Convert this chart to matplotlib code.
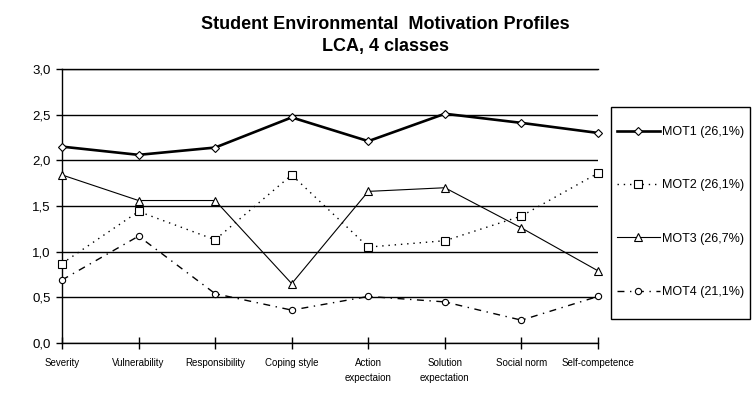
import matplotlib.pyplot as plt
from matplotlib.patches import Rectangle

plt.rcParams['font.family'] = ['Liberation Sans', 'DejaVu Sans']

categorias = ["Severity", "Vulnerability", "Responsibility", "Coping style",
              "Action\nexpectaion", "Solution\nexpectation", "Social norm", "Self-competence"]

mot1 = [2.15, 2.06, 2.14, 2.47, 2.21, 2.51, 2.41, 2.30]
mot2 = [0.87, 1.44, 1.13, 1.84, 1.05, 1.12, 1.39, 1.86]
mot3 = [1.84, 1.56, 1.56, 0.65, 1.66, 1.70, 1.26, 0.79]
mot4 = [0.69, 1.17, 0.54, 0.36, 0.51, 0.45, 0.25, 0.51]

etiquetas = ["MOT1 (26,1%)", "MOT2 (26,1%)", "MOT3 (26,7%)", "MOT4 (21,1%)"]
y_ticks = [0.0, 0.5, 1.0, 1.5, 2.0, 2.5, 3.0]

W, H = 755, 397
fig = plt.figure(figsize=(W / 100, H / 100), dpi=100)
ax = fig.add_axes([62 / W, 54 / H, 536 / W, 274 / H])

x = list(range(len(categorias)))

# cada perfil con su estilo de linea y marcador
ax.plot(x, mot1, color="black", lw=1.9, marker="D", ms=4.5, mfc="white", mec="black", mew=0.8,
        label=etiquetas[0], clip_on=False, zorder=5)
ax.plot(x, mot2, color="black", lw=1.0, ls=(0, (1, 3.5)), marker="s", ms=5.5, mfc="white", mec="black", mew=0.8,
        label=etiquetas[1], clip_on=False, zorder=4)
ax.plot(x, mot3, color="black", lw=0.8, marker="^", ms=6, mfc="white", mec="black", mew=0.8,
        label=etiquetas[2], clip_on=False, zorder=4)
ax.plot(x, mot4, color="black", lw=1.0, ls=(0, (5, 4, 1, 4)), marker="o", ms=4.5, mfc="white", mec="black", mew=0.8,
        label=etiquetas[3], clip_on=False, zorder=4)

ax.set_xlim(0, len(categorias) - 1)
ax.set_ylim(0, 3.0)
ax.set_yticks(y_ticks)
ax.set_yticklabels([f"{v:.1f}".replace(".", ",") for v in y_ticks], fontsize=9.5)
ax.set_xticks(x)
ax.set_xticklabels(categorias, fontsize=7, linespacing=1.65)
ax.tick_params(axis="x", direction="inout", length=8, width=1, pad=7)
ax.tick_params(axis="y", direction="out", length=4, width=1, pad=4.3)
ax.grid(axis="y", color="black", lw=1)
ax.set_axisbelow(True)
ax.spines["right"].set_visible(False)
for s in ["left", "bottom", "top"]:
    ax.spines[s].set_linewidth(1)

fig.text(385 / W, 1 - 29 / H, "Student Environmental  Motivation Profiles", ha="center", va="baseline",
         fontsize=13, fontweight="bold")
fig.text(385 / W, 1 - 51 / H, "LCA, 4 classes", ha="center", va="baseline",
         fontsize=13, fontweight="bold")

# leyenda sin marco, el marco se dibuja aparte
leg = fig.legend(loc="center", bbox_to_anchor=(680.5 / W, 1 - 212 / H), fontsize=9,
                 labelspacing=3.3, handlelength=3.44, borderpad=0.56, handletextpad=0.2,
                 frameon=False)
fig.patches.append(Rectangle((611 / W, 1 - 319 / H), 139 / W, 212 / H, transform=fig.transFigure,
                             fill=False, edgecolor="black", lw=1))

fig.savefig("out.png", dpi=100)
plt.close()
